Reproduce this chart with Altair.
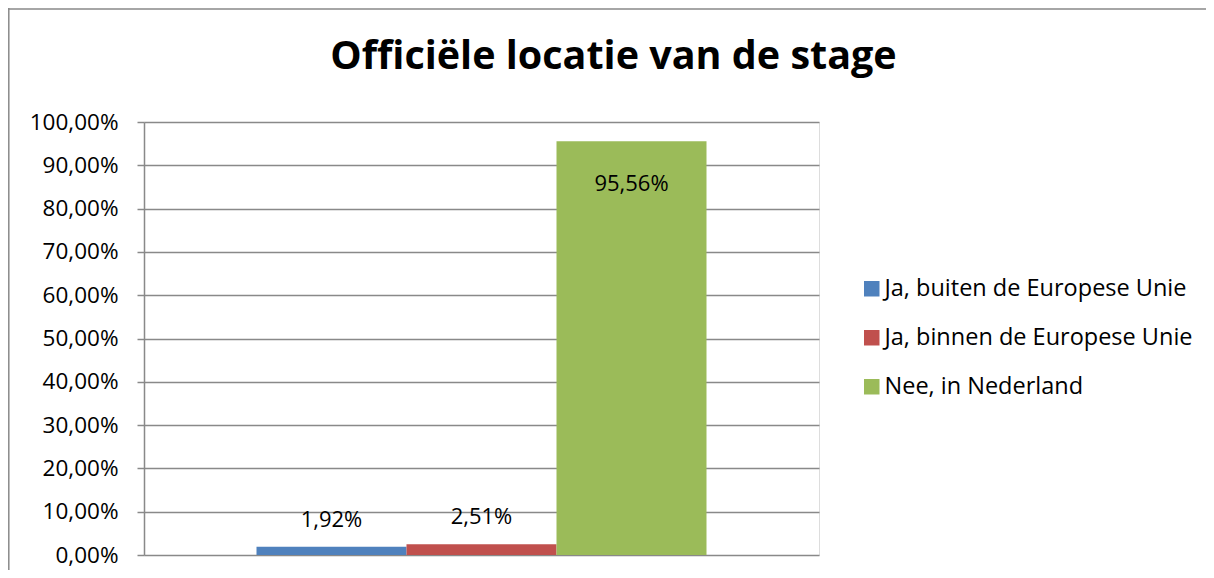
import altair as alt
import pandas as pd

categories = ["Ja, buiten de Europese Unie", "Ja, binnen de Europese Unie", "Nee, in Nederland"]
values = [1.92, 2.51, 95.56]
colors = ["#4F81BD", "#C0504D", "#9BBB59"]
y_ticks = [0, 10, 20, 30, 40, 50, 60, 70, 80, 90, 100]
title_text = "Officiële locatie van de stage"

FONT = "Open Sans"
GRID = "#898989"

df = pd.DataFrame({"cat": categories, "value": values})
df["label"] = [f"{v:.2f}".replace(".", ",") + "%" for v in values]

x_enc = alt.X("cat:N", sort=categories, axis=None,
              scale=alt.Scale(paddingInner=0, paddingOuter=0.75))
y_enc = alt.Y("value:Q", scale=alt.Scale(domain=[0, 100], nice=False),
              axis=alt.Axis(values=y_ticks, title=None,
                            labelExpr="replace(format(datum.value, '.2f'), '.', ',') + '%'",
                            labelFont=FONT, labelFontSize=22.5, labelColor="#000000",
                            tickSize=7, tickColor=GRID, tickWidth=1.5,
                            labelPadding=19,
                            domain=True, domainColor=GRID, domainWidth=1.5,
                            grid=True, gridColor=GRID, gridWidth=1.5))

bars = alt.Chart(df).mark_bar().encode(
    x=x_enc,
    y=y_enc,
    color=alt.Color("cat:N", sort=categories,
                    scale=alt.Scale(domain=categories, range=colors),
                    legend=alt.Legend(title=None, orient="none",
                                      legendX=716, legendY=155,
                                      padding=0, symbolType="square",
                                      symbolSize=240, symbolStrokeWidth=0,
                                      symbolOpacity=1,
                                      labelFont=FONT, labelFontSize=23.5,
                                      labelColor="#000000", labelOffset=1,
                                      rowPadding=24, labelLimit=400)),
)

labels_small = alt.Chart(df).transform_filter("datum.value < 50").mark_text(
    font=FONT, fontSize=22, color="#000000", baseline="alphabetic", dy=-20
).encode(x=alt.X("cat:N", sort=categories), y="value:Q", text="label:N")

labels_big = alt.Chart(df).transform_filter("datum.value >= 50").mark_text(
    font=FONT, fontSize=22, color="#000000", baseline="alphabetic", dy=50
).encode(x=alt.X("cat:N", sort=categories), y="value:Q", text="label:N")

title = alt.Chart(alt.Data(values=[{"t": title_text}])).mark_text(
    font=FONT, fontSize=39.5, fontWeight="bold", color="#000000",
    baseline="alphabetic", align="center"
).encode(x=alt.value(469.5), y=alt.value(-53), text="t:N")

frame_left = alt.Chart(alt.Data(values=[{}])).mark_rule(color=GRID, strokeWidth=1.5).encode(
    x=alt.value(-135.2), y=alt.value(-114), y2=alt.value(460))
frame_top = alt.Chart(alt.Data(values=[{}])).mark_rule(color=GRID, strokeWidth=1.5).encode(
    x=alt.value(-136), x2=alt.value(1070), y=alt.value(-113))

chart = alt.layer(bars, labels_small, labels_big, title, frame_left, frame_top).properties(
    width=675, height=433,
    autosize=alt.AutoSizeParams(type="none"),
    padding={"left": 136, "top": 114, "right": 387, "bottom": 15},
).configure_view(stroke=None).configure(background="#ffffff")

chart.save("out.html", embed_options={"renderer": "svg", "actions": False})
